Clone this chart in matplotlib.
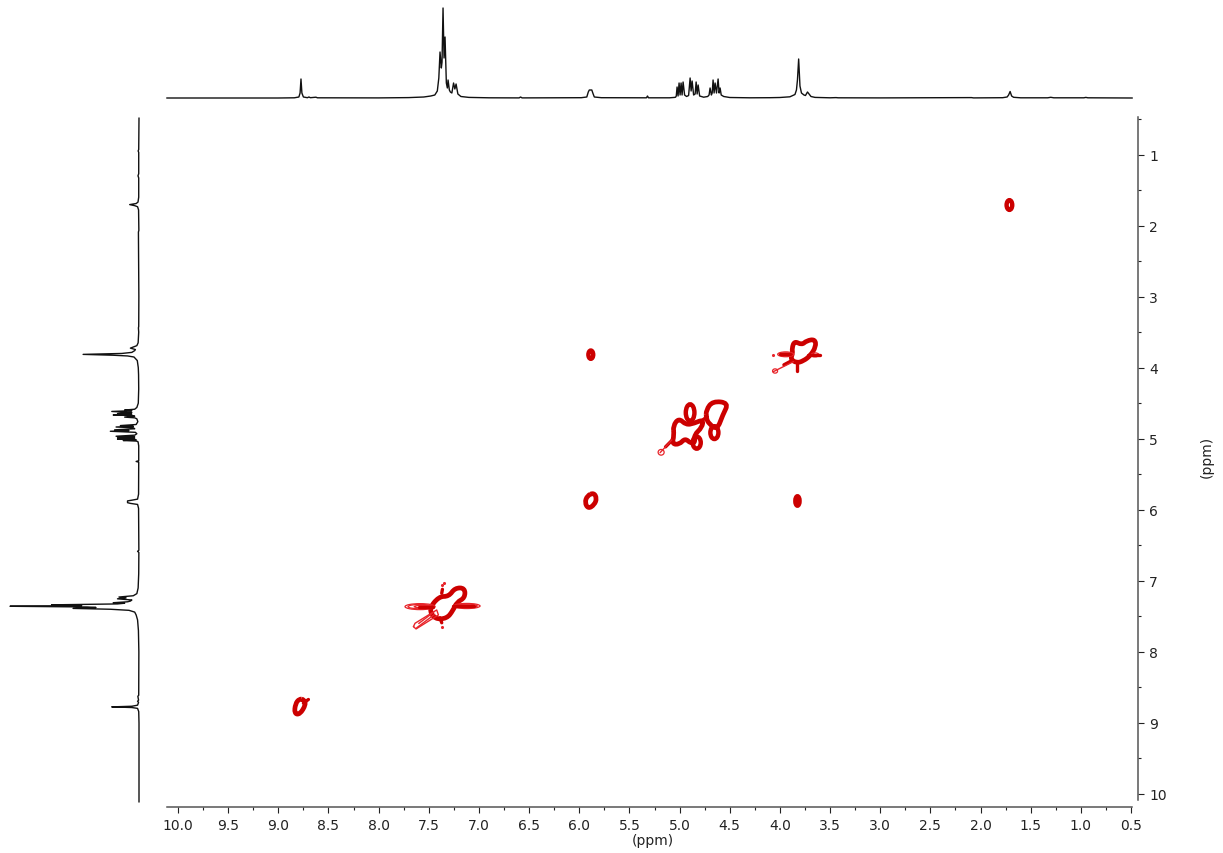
import matplotlib
matplotlib.use("Agg")
import matplotlib.pyplot as plt
from matplotlib.patches import Ellipse, PathPatch
from matplotlib.path import Path
from matplotlib.ticker import MultipleLocator, FormatStrFormatter

# 1D projection trace: chemical shift (ppm) and intensity
trace_ppm = [10.11, 9.0, 8.84, 8.795, 8.783, 8.774, 8.765, 8.75, 8.71, 8.695, 8.68, 8.625, 8.61, 8.0, 7.7, 7.55, 7.48,
             7.44, 7.415, 7.40, 7.388, 7.375, 7.368, 7.358, 7.348, 7.338, 7.325, 7.315, 7.308, 7.295, 7.285, 7.27,
             7.253, 7.24, 7.228, 7.21, 7.18, 7.1, 6.9, 6.6, 6.585, 6.57, 5.98, 5.925, 5.91, 5.90, 5.875, 5.865, 5.85,
             5.78, 5.33, 5.32, 5.31, 5.1, 5.05, 5.04, 5.033, 5.025, 5.015, 5.005, 4.995, 4.985, 4.975, 4.965, 4.95,
             4.93, 4.91, 4.895, 4.885, 4.875, 4.86, 4.845, 4.835, 4.825, 4.815, 4.80, 4.76, 4.72, 4.706, 4.696, 4.683,
             4.675, 4.666, 4.656, 4.646, 4.632, 4.616, 4.606, 4.596, 4.585, 4.56, 4.5, 4.3, 4.1, 4.0, 3.9, 3.85,
             3.835, 3.825, 3.813, 3.80, 3.785, 3.76, 3.745, 3.725, 3.71, 3.69, 3.65, 3.5, 3.44, 3.42, 3.0, 2.09, 2.07,
             1.78, 1.735, 1.72, 1.705, 1.69, 1.67, 1.6, 1.33, 1.30, 1.27, 0.97, 0.95, 0.93, 0.489]
trace_int = [0, 0, 0.2, 1, 5, 19, 5, 1, 0.3, 1, 0.3, 0.8, 0.2, 0.1, 0.4, 1, 2,
             3, 7, 20, 46, 30, 36, 90, 40, 61, 15, 10, 18, 8, 6, 5,
             15, 9, 14, 4, 1.5, 0.6, 0.2, 0.1, 1, 0.1, 0.3, 1, 6, 8, 8, 5, 1,
             0.3, 0.2, 2, 0.2, 0.2, 0.6, 0.8, 2, 11, 2, 15, 3, 15, 3, 16, 3,
             1.5, 2.5, 20, 7, 17, 3, 4, 16, 4, 13, 2, 0.8, 1.5, 3, 10, 3,
             5, 18, 5, 15, 5, 19, 5, 10, 3, 1.5, 0.5, 0.2, 0.3, 0.5, 1.2, 3.5,
             8, 18, 39, 12, 5, 3, 2.5, 6, 4, 1.5, 0.6, 0.2, 0.4, 0.2, 0.1, 0.4, 0.1,
             0.3, 1, 3, 6.5, 2, 0.7, 0.2, 0.2, 0.7, 0.2, 0.2, 0.6, 0.2, 0]

# Thick contour outlines, (F2 ppm, F1 ppm)
ring_a_x = [5.065, 5.008, 4.935, 4.855, 4.765, 4.775, 4.855, 4.845, 4.889, 4.945, 5.002, 5.075, 5.055]
ring_a_y = [4.821, 4.710, 4.806, 4.783, 4.730, 4.839, 4.947, 5.055, 5.065, 4.994, 5.080, 5.075, 4.947]
ring_b_x = [4.735, 4.670, 4.510, 4.570, 4.625, 4.705, 4.735]
ring_b_y = [4.595, 4.470, 4.495, 4.666, 4.875, 4.792, 4.713]
ring_c_x = [3.880, 3.855, 3.782, 3.733, 3.650, 3.640, 3.699, 3.766, 3.832, 3.895, 3.872]
ring_c_y = [3.728, 3.625, 3.680, 3.620, 3.600, 3.704, 3.835, 3.905, 3.935, 3.880, 3.798]
ring_d_x = [7.50, 7.40, 7.30, 7.24, 7.14, 7.14, 7.22, 7.26, 7.32, 7.44]
ring_d_y = [7.40, 7.22, 7.22, 7.10, 7.10, 7.24, 7.30, 7.42, 7.53, 7.54]
ring_e_x = [5.855, 5.825, 5.85, 5.91, 5.945, 5.92]
ring_e_y = [5.76, 5.84, 5.93, 5.985, 5.90, 5.80]
ring_f_x = [8.745, 8.725, 8.785, 8.84, 8.83, 8.79]
ring_f_y = [8.67, 8.74, 8.88, 8.87, 8.73, 8.66]
closed_rings = [(ring_a_x, ring_a_y), (ring_b_x, ring_b_y), (ring_c_x, ring_c_y),
                (ring_d_x, ring_d_y), (ring_e_x, ring_e_y), (ring_f_x, ring_f_y)]

# Elliptical cross peaks: centre F2, centre F1, half-widths (ppm)
oval_x = [4.895, 4.829, 4.653, 1.712, 5.885, 3.825]
oval_y = [4.633, 5.055, 4.914, 1.711, 3.817, 5.876]
oval_rx = [0.043, 0.040, 0.040, 0.028, 0.024, 0.021]
oval_ry = [0.117, 0.085, 0.090, 0.068, 0.058, 0.066]

# Medium strokes: links and spurs between contours
mid_x = [[4.779, 4.723], [5.060, 5.140], [3.832, 3.832], [3.880, 3.960], [7.371, 7.364], [7.388, 7.371],
         [8.75, 8.70], [4.000, 3.900], [3.720, 3.600], [7.60, 7.46], [7.26, 7.05]]
mid_y = [[4.745, 4.689], [5.000, 5.115], [3.915, 4.040], [3.900, 3.960], [7.175, 7.120], [7.52, 7.590],
         [8.72, 8.67], [3.812, 3.812], [3.820, 3.820], [7.363, 7.363], [7.354, 7.354]]

# Fine contour tails
fine_x = [[5.078, 5.194], [3.865, 4.065], [7.653, 7.637, 7.421, 7.404, 7.627, 7.653],
          [7.60, 7.45], [7.62, 7.44]]
fine_y = [[5.018, 5.196], [3.915, 4.056], [7.644, 7.597, 7.410, 7.480, 7.677, 7.644],
          [7.60, 7.44], [7.66, 7.47]]
tail_x = [5.184, 3.942, 3.942, 3.65, 4.048, 7.587, 7.587, 7.560, 7.122, 7.122, 7.140]
tail_y = [5.191, 3.812, 3.812, 3.82, 4.047, 7.363, 7.363, 7.363, 7.354, 7.354, 7.354]
tail_rx = [0.030, 0.080, 0.055, 0.040, 0.025, 0.150, 0.120, 0.085, 0.133, 0.105, 0.075]
tail_ry = [0.040, 0.034, 0.020, 0.028, 0.030, 0.042, 0.030, 0.018, 0.036, 0.026, 0.015]
# Isolated small contour specks
speck_x = [7.364, 7.352, 4.065, 7.371]
speck_y = [7.058, 7.030, 3.82, 7.654]

W, H = 1223, 854
X_PX_10 = 178.0
PX_PER_PPM_X = (1131.0 - 178.0) / 9.5
Y_PX_1 = 155.5
PX_PER_PPM_Y = (794.0 - 154.5) / 9.0
INK = "#222222"
AXC = "#555555"
RED = "#CC0000"
RED2 = "#E8242A"


def axes_px(fig, x0, x1, y0, y1):
    return fig.add_axes([x0 / W, 1 - y1 / H, (x1 - x0) / W, (y1 - y0) / H])


def smooth_closed(xs, ys):
    """Quadratic-Bezier path through edge midpoints, using the outline points as control points."""
    n = len(xs)
    mids = [((xs[i] + xs[(i + 1) % n]) / 2, (ys[i] + ys[(i + 1) % n]) / 2) for i in range(n)]
    verts, codes = [mids[-1]], [Path.MOVETO]
    for i in range(n):
        verts += [(xs[i], ys[i]), mids[i]]
        codes += [Path.CURVE3, Path.CURVE3]
    return Path(verts, codes)


fig = plt.figure(figsize=(W / 100, H / 100), dpi=100)
plt.rcParams["font.family"] = ["DejaVu Sans"]

L, R, T, B = 167, 1132, 118, 801
xlim = (10 - (L - X_PX_10) / PX_PER_PPM_X, 10 - (R - X_PX_10) / PX_PER_PPM_X)
ylim = (1 + (B - Y_PX_1) / PX_PER_PPM_Y, 1 + (T - Y_PX_1) / PX_PER_PPM_Y)

ax = axes_px(fig, L, R, T, B)
ax.set_xlim(*xlim)
ax.set_ylim(*ylim)
for s in ("top", "left"):
    ax.spines[s].set_visible(False)
ax.spines["bottom"].set_position(("outward", 5.0))
ax.spines["right"].set_position(("outward", 4.32))
for s in ("bottom", "right"):
    ax.spines[s].set_color(AXC)
    ax.spines[s].set_linewidth(1.1)
ax.yaxis.tick_right()
ax.xaxis.set_major_locator(MultipleLocator(0.5))
ax.xaxis.set_minor_locator(MultipleLocator(0.25))
ax.yaxis.set_major_locator(MultipleLocator(1))
ax.yaxis.set_minor_locator(MultipleLocator(0.5))
ax.xaxis.set_major_formatter(FormatStrFormatter("%.1f"))
ax.yaxis.set_major_formatter(FormatStrFormatter("%d"))
ax.tick_params(which="major", length=4.5, width=0.8, color=INK, labelcolor=INK, labelsize=10, pad=3.5)
ax.tick_params(which="minor", length=2.2, width=0.8, color=INK)
ax.patch.set_alpha(0)

for xs, ys in closed_rings:
    ax.add_patch(PathPatch(smooth_closed(xs, ys), fill=False, ec=RED, lw=3.4, joinstyle="round"))
for cx, cy, rx, ry in zip(oval_x, oval_y, oval_rx, oval_ry):
    ax.add_patch(Ellipse((cx, cy), 2 * rx, 2 * ry, fill=False, ec=RED, lw=3.2))
for xs, ys in zip(mid_x, mid_y):
    ax.plot(xs, ys, color=RED, lw=2.4, solid_capstyle="round")
for xs, ys in zip(fine_x, fine_y):
    ax.plot(xs, ys, color=RED2, lw=1.0, solid_capstyle="round")
for cx, cy, rx, ry in zip(tail_x, tail_y, tail_rx, tail_ry):
    ax.add_patch(Ellipse((cx, cy), 2 * rx, 2 * ry, fill=False, ec=RED2, lw=0.9))
ax.scatter(speck_x, speck_y, s=5, color=RED2, lw=0)

fig.text(653 / W, 1 - 841 / H, "(ppm)", ha="center", va="center", fontsize=10, color=INK)
fig.text(1207 / W, 1 - 457 / H, "(ppm)", ha="center", va="center", rotation=90, fontsize=10, color=INK)

top = axes_px(fig, L, R, 9, 99)
top.set_xlim(*xlim)
top.set_ylim(0, 90)
top.axis("off")
top.plot(trace_ppm, trace_int, color="#111111", lw=1.0, clip_on=False, solid_joinstyle="round")

left = axes_px(fig, 10, 139, T, B)
left.set_xlim(90, 0)
left.set_ylim(*ylim)
left.axis("off")
left.plot(trace_int, trace_ppm, color="#111111", lw=1.0, clip_on=False, solid_joinstyle="round")

fig.savefig("out.png", dpi=100)
